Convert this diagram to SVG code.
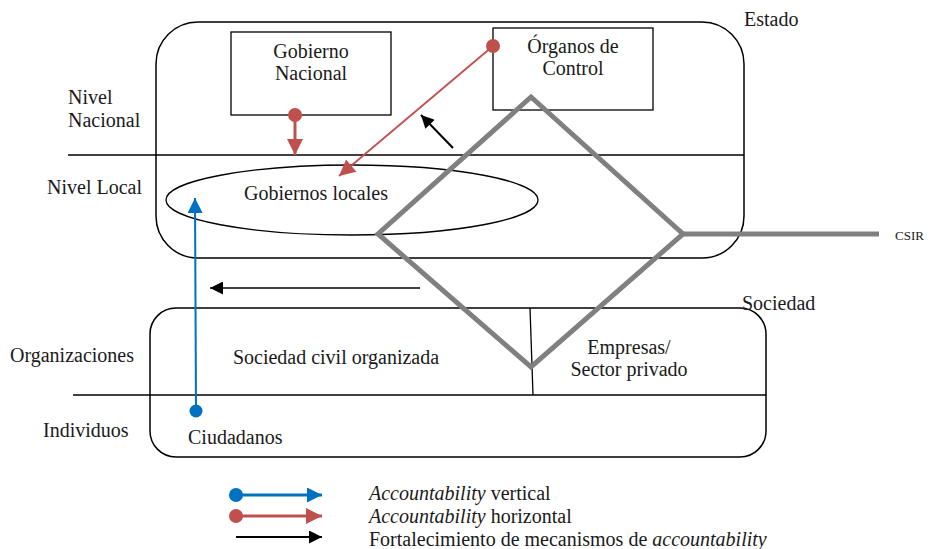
<svg xmlns="http://www.w3.org/2000/svg" width="932" height="549" viewBox="0 0 932 549">
<style>
text{fill:#1a1a1a;font-size:20px}
.frame{fill:none;stroke:#000;stroke-width:1.5}
.thin{fill:none;stroke:#000;stroke-width:1.3}
.red{stroke:#c0504d;fill:none}
.blue{stroke:#0070c0;fill:none}
.blk{stroke:#000;fill:none}
.csir{fill:none;stroke:#808080;stroke-width:5;stroke-linejoin:miter}
</style>
<defs>
<marker id="hr" viewBox="0 0 10 10" refX="10" refY="5" markerUnits="userSpaceOnUse" markerWidth="18" markerHeight="16" orient="auto"><path d="M0,0 L10,5 L0,10 z" fill="#c0504d"/></marker>
<marker id="hb" viewBox="0 0 10 10" refX="10" refY="5" markerUnits="userSpaceOnUse" markerWidth="18" markerHeight="15" orient="auto"><path d="M0,0 L10,5 L0,10 z" fill="#0070c0"/></marker>
<marker id="hk" viewBox="0 0 10 10" refX="10" refY="5" markerUnits="userSpaceOnUse" markerWidth="15" markerHeight="13" orient="auto"><path d="M0,0 L10,5 L0,10 z" fill="#000"/></marker>
</defs>

<g id="estado">
<rect x="156" y="22" width="588" height="236" rx="42" ry="42" class="frame"/>
<text x="744" y="26" style="font-family:'Liberation Serif',serif">Estado</text>
</g>
<g id="niveles">
<line x1="68" y1="155" x2="744" y2="155" class="thin"/>
<text x="68" y="104" style="font-family:'Liberation Serif',serif">Nivel</text>
<text x="68" y="127" style="font-family:'Liberation Serif',serif">Nacional</text>
<text x="47" y="194" style="font-family:'Liberation Serif',serif">Nivel Local</text>
</g>
<g id="gobierno-nacional">
<rect x="231" y="32" width="160" height="83" class="thin"/>
<text x="311" y="58" text-anchor="middle" style="font-family:'Liberation Serif',serif">Gobierno</text>
<text x="311" y="80" text-anchor="middle" style="font-family:'Liberation Serif',serif">Nacional</text>
</g>
<g id="organos-control">
<rect x="493" y="28" width="160" height="82" class="thin"/>
<text x="573" y="53" text-anchor="middle" style="font-family:'Liberation Serif',serif">Órganos de</text>
<text x="573" y="75" text-anchor="middle" style="font-family:'Liberation Serif',serif">Control</text>
</g>
<g id="gobiernos-locales">
<ellipse cx="352" cy="200" rx="186" ry="35" class="thin"/>
<text x="316" y="200" text-anchor="middle" style="font-family:'Liberation Serif',serif">Gobiernos locales</text>
</g>

<g id="sociedad">
<rect x="150" y="308" width="616" height="149" rx="26" ry="26" class="frame"/>
<text x="742" y="310" style="font-family:'Liberation Serif',serif">Sociedad</text>
<line x1="73" y1="395" x2="766" y2="395" class="thin"/>
<line x1="530" y1="308" x2="533" y2="395" class="thin"/>
<text x="10" y="362" style="font-family:'Liberation Serif',serif">Organizaciones</text>
<text x="43" y="437" style="font-family:'Liberation Serif',serif">Individuos</text>
</g>
<g id="sociedad-civil"><text x="336" y="364" text-anchor="middle" style="font-family:'Liberation Serif',serif">Sociedad civil organizada</text></g>
<g id="empresas">
<text x="629" y="354" text-anchor="middle" style="font-family:'Liberation Serif',serif">Empresas/</text>
<text x="629" y="376" text-anchor="middle" style="font-family:'Liberation Serif',serif">Sector privado</text>
</g>
<g id="ciudadanos"><text x="188" y="444" style="font-family:'Liberation Serif',serif">Ciudadanos</text></g>

<g id="csir">
<path d="M531,97 L683,234 L531,367 L378,234 Z" class="csir"/>
<line x1="683" y1="234" x2="879" y2="234" stroke="#808080" stroke-width="5"/>
<text x="895" y="240" style="font-family:'Liberation Serif',serif;font-size:13px">CSIR</text>
</g>

<g id="connectors">
<circle cx="295" cy="115" r="7" fill="#c0504d"/>
<line x1="295" y1="115" x2="295" y2="155" class="red" stroke-width="3" marker-end="url(#hr)"/>
<circle cx="493" cy="46" r="7" fill="#c0504d"/>
<line x1="493" y1="46" x2="339" y2="176" class="red" stroke-width="1.8" marker-end="url(#hr)"/>
<line x1="453" y1="148" x2="421" y2="115" class="blk" stroke-width="2" marker-end="url(#hk)"/>
<circle cx="196" cy="411" r="6.5" fill="#0070c0"/>
<line x1="196" y1="411" x2="195" y2="198" class="blue" stroke-width="2" marker-end="url(#hb)"/>
<line x1="420" y1="288" x2="210" y2="288" class="blk" stroke-width="1.5" marker-end="url(#hk)"/>
</g>

<g id="legend">
<circle cx="236" cy="495" r="7" fill="#0070c0"/>
<line x1="236" y1="495" x2="322" y2="495" class="blue" stroke-width="3" marker-end="url(#hb)"/>
<circle cx="236" cy="516" r="7" fill="#c0504d"/>
<line x1="236" y1="516" x2="322" y2="516" class="red" stroke-width="3" marker-end="url(#hr)"/>
<line x1="236" y1="537" x2="322" y2="537" class="blk" stroke-width="2" marker-end="url(#hk)"/>
<text x="369" y="500" style="font-family:'Liberation Serif',serif"><tspan font-style="italic">Accountability</tspan> vertical</text>
<text x="369" y="523" style="font-family:'Liberation Serif',serif"><tspan font-style="italic">Accountability</tspan> horizontal</text>
<text x="369" y="546" style="font-family:'Liberation Serif',serif">Fortalecimiento de mecanismos de <tspan font-style="italic">accountability</tspan></text>
</g>
</svg>
